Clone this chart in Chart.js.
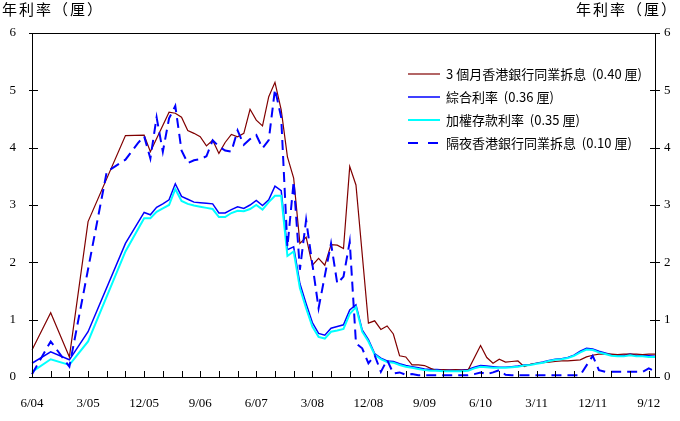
<!DOCTYPE html>
<html>
<head>
<meta charset="utf-8">
<script src="https://cdn.jsdelivr.net/npm/chart.js@4.4.1/dist/chart.umd.min.js"></script>
<style>
  html, body { margin: 0; padding: 0; background: #fff; }
  #wrap { position: relative; width: 680px; height: 421px; }
  .axisTitle { position: absolute; top: 0; font: 15px "Noto Sans CJK TC", sans-serif; letter-spacing: 2px; color: #000; line-height: 18px; }
  #legend { position: absolute; left: 408px; top: 62px; font: 13px "Noto Sans CJK TC", sans-serif; color: #000; }
  #legend .row { display: flex; align-items: center; height: 23px; white-space: nowrap; }
  #legend svg { margin-right: 6px; }
</style>
</head>
<body>
<div id="wrap">
  <canvas id="grafico" width="680" height="421"></canvas>
  <div class="axisTitle" style="left:2px">年利率（厘）</div>
  <div class="axisTitle" style="right:2px">年利率（厘）</div>
  <div id="legend"></div>
</div>
<script>
// DADOS (um valor por mês de 6/04 a 10/12; null = sem ponto)
const tickLabels = ["6/04", "3/05", "12/05", "9/06", "6/07", "3/08", "12/08", "9/09", "6/10", "3/11", "12/11", "9/12"];

const seriesNames = ["3 個月香港銀行同業拆息", "綜合利率", "加權存款利率", "隔夜香港銀行同業拆息"];
const latestValues = ["0.40", "0.36", "0.35", "0.10"];

const hibor3m = [
  0.47, null, null, 1.12, null, null, 0.35, null, null, 2.71,
  null, null, null, null, null, 4.21, null, null, 4.22, 3.93,
  null, null, 4.62, 4.60, 4.53, 4.30, 4.25, 4.19, 4.03, 4.13,
  3.90, 4.09, 4.23, 4.19, 4.25, 4.67, 4.48, 4.38, 4.89, 5.14,
  4.66, 3.84, 3.47, 2.33, 2.44, 1.95, 2.07, 1.95, 2.31, 2.30,
  2.24, 3.67, 3.35, null, 0.94, 0.98, 0.83, 0.89, 0.75, 0.37,
  0.35, 0.21, 0.21, 0.20, 0.15, 0.11, 0.13, 0.12, 0.13, 0.12,
  0.12, null, 0.55, 0.34, 0.24, 0.31, 0.26, 0.27, 0.28, 0.18,
  0.22, 0.24, 0.25, 0.26, 0.27, 0.28, 0.28, 0.29, 0.30, 0.35,
  0.38, 0.40, 0.40, 0.40, 0.39, 0.40, 0.40, 0.40, 0.39, 0.40,
  0.40
];

const compositeRate = [
  0.24, null, null, 0.44, null, null, 0.30, null, null, 0.79,
  null, null, null, null, null, 2.33, null, null, 2.87, 2.83,
  2.96, 3.02, 3.09, 3.37, 3.15, 3.10, 3.05, 3.04, 3.03, 3.02,
  2.86, 2.86, 2.92, 2.97, 2.94, 3.00, 3.08, 2.99, 3.09, 3.33,
  3.25, 2.22, 2.27, 1.63, 1.28, 0.95, 0.76, 0.73, 0.85, 0.88,
  0.91, 1.17, 1.26, 0.82, 0.65, 0.41, 0.33, 0.28, 0.27, 0.23,
  0.20, 0.18, 0.16, 0.14, 0.13, 0.13, 0.12, 0.12, 0.12, 0.12,
  0.13, 0.17, 0.20, 0.19, 0.18, 0.17, 0.17, 0.18, 0.19, 0.21,
  0.22, 0.24, 0.26, 0.29, 0.31, 0.32, 0.34, 0.38, 0.45, 0.50,
  0.49, 0.45, 0.42, 0.39, 0.38, 0.38, 0.40, 0.38, 0.38, 0.37,
  0.36
];

const depositRate = [
  0.09, null, null, 0.31, null, null, 0.21, null, null, 0.62,
  null, null, null, null, null, 2.19, null, null, 2.77, 2.77,
  2.88, 2.94, 3.00, 3.28, 3.07, 3.02, 2.99, 2.97, 2.95, 2.93,
  2.79, 2.79, 2.86, 2.90, 2.89, 2.93, 3.00, 2.92, 3.05, 3.16,
  3.16, 2.11, 2.19, 1.55, 1.20, 0.88, 0.70, 0.67, 0.79, 0.81,
  0.84, 1.10, 1.22, 0.79, 0.62, 0.39, 0.31, 0.26, 0.25, 0.21,
  0.18, 0.16, 0.14, 0.12, 0.11, 0.11, 0.10, 0.10, 0.10, 0.10,
  0.11, 0.15, 0.18, 0.17, 0.16, 0.16, 0.16, 0.17, 0.18, 0.20,
  0.21, 0.23, 0.25, 0.28, 0.30, 0.31, 0.33, 0.37, 0.43, 0.48,
  0.47, 0.43, 0.40, 0.37, 0.36, 0.36, 0.38, 0.36, 0.36, 0.35,
  0.35
];

const hiborOvernight = [
  0.05, null, null, 0.62, null, null, 0.18, null, null, null,
  null, null, 3.58, null, null, 3.79, null, 4.08, 4.20, 3.81,
  4.53, 3.93, 4.51, 4.73, 3.95, 3.73, 3.78, 3.80, 3.85, 4.13,
  4.02, 3.95, 3.93, 4.30, 4.05, 4.15, 4.22, 3.99, 4.13, 5.02,
  4.53, 2.27, 3.41, 1.87, 2.74, null, 1.20, null, 2.33, 1.63,
  1.75, 2.36, 0.59, 0.50, 0.24, 0.38, 0.09, 0.30, 0.06, 0.08,
  0.04, 0.05, 0.03, 0.03, 0.03, 0.03, 0.03, 0.03, 0.03, 0.03,
  0.03, 0.05, 0.08, 0.05, 0.08, 0.12, 0.04, 0.03, 0.03, 0.03,
  0.03, 0.03, 0.03, 0.03, 0.03, 0.03, 0.03, 0.03, 0.03, null,
  0.37, 0.12, 0.09, 0.09, 0.09, 0.09, 0.09, 0.09, 0.09, 0.15,
  0.10
];

// categorias: meses de 6/04 até 10/12
const meses = [];
for (let i = 0; i < hibor3m.length; i++) {
  const m = (5 + i) % 12 + 1;
  const a = 4 + Math.floor((5 + i) / 12);
  meses.push(m + "/" + String(a).padStart(2, "0"));
}

// moldura + marcas de escala para dentro
const moldura = {
  id: "moldura",
  afterDraw(chart) {
    const { ctx, chartArea: a, scales } = chart;
    ctx.save();
    ctx.strokeStyle = "#000";
    ctx.lineWidth = 1;
    ctx.beginPath();
    ctx.rect(Math.round(a.left) + 0.5, Math.round(a.top) + 0.5,
             Math.round(a.right - a.left), Math.round(a.bottom - a.top));
    for (let v = 0; v <= 6; v++) {
      const y = Math.round(scales.y.getPixelForValue(v)) + 0.5;
      ctx.moveTo(a.left - 3, y); ctx.lineTo(a.left + 6, y);
      ctx.moveTo(a.right - 5, y); ctx.lineTo(a.right + 5, y);
    }
    for (let i = 0; i < meses.length; i += 3) {
      const x = Math.round(scales.x.getPixelForValue(i)) + 0.5;
      ctx.moveTo(x, a.bottom); ctx.lineTo(x, a.bottom - 6);
    }
    ctx.stroke();
    ctx.restore();
  }
};

const fonteNum = { family: "'Liberation Serif', 'Times New Roman', serif", size: 13 };

const cores = ["#800000", "#0000ff", "#00ffff", "#0000ff"];
const larguras = [1.2, 1.5, 2, 2];
const tracos = [[], [], [], [10, 6]];
const valores = [hibor3m, compositeRate, depositRate, hiborOvernight];
const ordem = [2, 3, 1, 0];

const chart = new Chart(document.getElementById("grafico"), {
  type: "line",
  data: {
    labels: meses,
    datasets: seriesNames.map((nome, k) => ({
      label: nome,
      data: valores[k],
      borderColor: cores[k],
      borderWidth: larguras[k],
      borderDash: tracos[k],
      pointRadius: 0,
      tension: 0,
      spanGaps: true,
      fill: false,
      order: ordem[k]
    }))
  },
  options: {
    responsive: false,
    devicePixelRatio: 1,
    animation: false,
    layout: { padding: { top: 33, left: 0, right: 0, bottom: 0 } },
    plugins: { legend: { display: false }, tooltip: { enabled: false } },
    scales: {
      x: {
        grid: { display: false, drawTicks: false },
        border: { display: false },
        afterFit: s => { s.height = 44; },
        ticks: {
          autoSkip: false,
          maxRotation: 0,
          padding: 19,
          color: "#000",
          font: fonteNum,
          callback: (v, i) => tickLabels.includes(meses[i]) ? meses[i] : ""
        }
      },
      y: {
        position: "left",
        min: 0, max: 6,
        grid: { display: false, drawTicks: false },
        border: { display: false },
        afterFit: s => { s.width = 32; },
        ticks: { stepSize: 1, padding: 16, color: "#000", font: fonteNum }
      },
      y2: {
        position: "right",
        min: 0, max: 6,
        grid: { display: false, drawTicks: false },
        border: { display: false },
        afterFit: s => { s.width = 25; },
        ticks: { stepSize: 1, padding: 9, color: "#000", font: fonteNum }
      }
    }
  },
  plugins: [moldura]
});

// LEGENDA
const legenda = document.getElementById("legend");
chart.data.datasets.forEach((d, k) => {
  const dash = d.borderDash.length ? `stroke-dasharray="10 10"` : "";
  legenda.innerHTML += `
    <div class="row">
      <svg width="32" height="4"><line x1="0" y1="2" x2="32" y2="2" stroke="${d.borderColor}" stroke-width="${d.borderWidth}" ${dash}/></svg>
      <span>${d.label}&nbsp;&nbsp;(${latestValues[k]} 厘)</span>
    </div>
  `;
});
</script>
</body>
</html>
